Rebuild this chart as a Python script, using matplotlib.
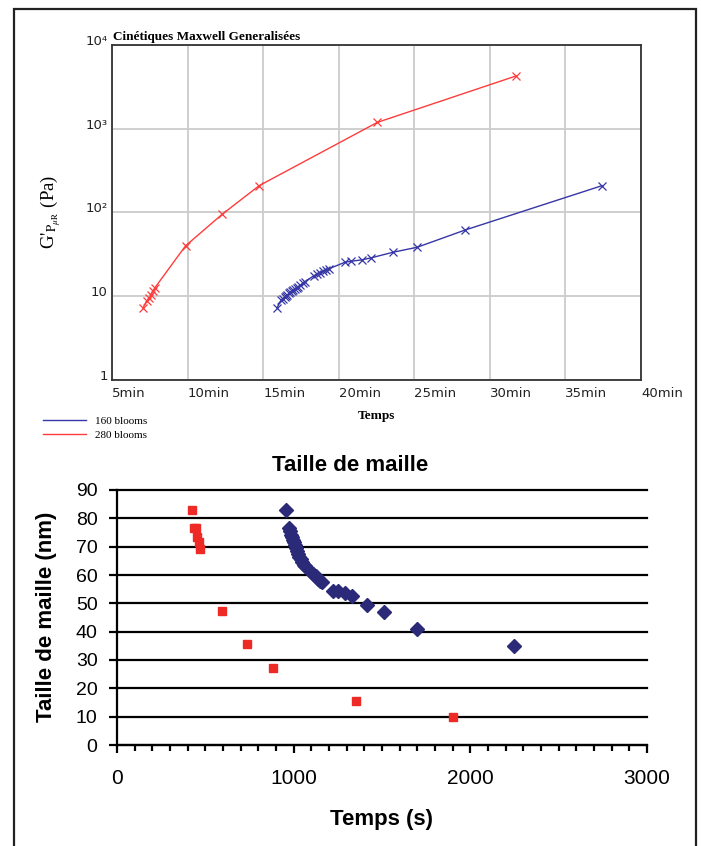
import matplotlib
matplotlib.use("Agg")
import matplotlib.pyplot as plt
from matplotlib.lines import Line2D
from matplotlib.patches import Rectangle
from matplotlib.ticker import FixedLocator, NullLocator, MultipleLocator

plt.rcParams["mathtext.fontset"] = "stix"

# 280 blooms gel (red)
red_time_s = [424, 438, 448, 455, 462, 470, 592, 737, 884, 1353, 1904]
red_modulus_pa = [7.3, 8.8, 9.5, 10.4, 11.5, 12.6, 40, 95, 209, 1190, 4270]
red_mesh_nm = [83, 76.5, 76.5, 73.5, 71.5, 69, 47.2, 35.5, 27.3, 15.5, 10]

# 160 blooms gel (blue)
blue_time_s = [955, 972, 978, 985, 990, 996, 1002, 1008, 1014, 1020, 1026, 1033,
               1040, 1048, 1057, 1066, 1100, 1112, 1124, 1136, 1148, 1160, 1225,
               1250, 1292, 1330, 1415, 1512, 1700, 2245]
blue_modulus_pa = [7.3, 9.0, 9.4, 9.8, 10.0, 10.4, 10.8, 11.1, 11.5, 11.8, 12.2,
                   12.6, 13.0, 13.6, 14.2, 14.9, 17.5, 18.3, 19.2, 19.8, 20.5, 21.2,
                   25.5, 26.2, 27.2, 28.8, 33.5, 38.5, 61.5, 209]
blue_mesh_nm = [83, 76.5, 75.5, 74, 73.5, 72.5, 71.5, 70.5, 69.5, 68.5, 67.5, 66.5,
                65.5, 64.5, 63.5, 63, 61, 60.5, 59.5, 58.5, 58, 57.5, 54.5, 54.5,
                53.5, 52.5, 49.5, 47, 41, 35]

series_labels = ["160 blooms", "280 blooms"]

minute_ticks = [5, 10, 15, 20, 25, 30, 35, 40]
minute_labels = [f"{m}min" for m in minute_ticks]
modulus_ticks = [1, 10, 100, 1000, 10000]
modulus_labels = ["1", "10", "10\u00b2", "10\u00b3", "10\u2074"]
mesh_ticks = list(range(0, 91, 10))
time_ticks = [0, 1000, 2000, 3000]

W, H = 701, 846
RED_LINE = "#ff3c3c"
BLUE_LINE = "#3636a6"
RED_MARK = "#ee2a26"
BLUE_MARK = "#2a2a78"
SERIF = "Liberation Serif"
SANS = "Liberation Sans"


def fx(px):
    return px / W


def fy(py):
    return 1 - py / H


fig = plt.figure(figsize=(W / 100, H / 100), dpi=100)

# outer frame
fig.add_artist(Rectangle((fx(14), -0.01), fx(696) - fx(14), fy(8.5) + 0.01,
                         transform=fig.transFigure, fill=False,
                         edgecolor="#222222", linewidth=1.6))

# ---------- top panel: modulus kinetics ----------
ax1 = fig.add_axes([fx(112), fy(380), fx(641) - fx(112), fy(45) - fy(380)])
blue_min = [t / 60 for t in blue_time_s]
red_min = [t / 60 for t in red_time_s]
ax1.plot(blue_min, blue_modulus_pa, color=BLUE_LINE, lw=1.0, marker="x",
         ms=6, mew=0.9)
ax1.plot(red_min, red_modulus_pa, color=RED_LINE, lw=1.0, marker="x",
         ms=6, mew=0.9)
ax1.set_yscale("log")
ax1.set_xlim(5, 40)
ax1.set_ylim(1, 10000)
ax1.xaxis.set_major_locator(FixedLocator(minute_ticks))
ax1.set_xticklabels(minute_labels)
ax1.yaxis.set_major_locator(FixedLocator(modulus_ticks))
ax1.yaxis.set_minor_locator(NullLocator())
ax1.set_yticklabels(modulus_labels)
ax1.grid(True, color="#cccccc", lw=1.3)
ax1.set_axisbelow(True)
ax1.tick_params(length=0, labelsize=9.5, colors="#222222")
ax1.tick_params(axis="x", pad=5)
ax1.tick_params(axis="y", pad=3)
for lab in ax1.get_xticklabels():
    lab.set_horizontalalignment("left")
    lab.set_family("DejaVu Sans")
for lab in ax1.get_yticklabels():
    lab.set_verticalalignment("baseline")
    lab.set_family("DejaVu Sans")
for sp in ax1.spines.values():
    sp.set_color("#333333")
    sp.set_linewidth(1.3)

ax1.text(0.002, 1.006, "Cinétiques Maxwell Generalisées", transform=ax1.transAxes,
         ha="left", va="bottom", family=SERIF, weight="bold", size=9.5)
fig.text(fx(51), fy(212), r"G$'_{\mathrm{P}_{\mu\mathrm{R}}}$ (Pa)", rotation=90,
         ha="center", va="center", family=SERIF, size=13.5)
fig.text(fx(376), fy(416), "Temps", ha="center", va="center", family=SERIF,
         weight="bold", size=9.5)

handles = [Line2D([], [], color=BLUE_LINE, lw=1.0),
           Line2D([], [], color=RED_LINE, lw=1.0)]
ax1.legend(handles, series_labels, loc="upper left",
           bbox_to_anchor=(fx(43), fy(416)), bbox_transform=fig.transFigure,
           frameon=False, prop={"family": SERIF, "size": 8},
           handlelength=3.9, handletextpad=0.8, borderpad=0, borderaxespad=0,
           labelspacing=0.42)

# ---------- bottom panel: mesh size ----------
ax2 = fig.add_axes([fx(117), fy(745), fx(647) - fx(117), fy(490) - fy(745)])
ax2.plot(red_time_s, red_mesh_nm, ls="none", marker="s", ms=6.3, color=RED_MARK,
         mec=RED_MARK, zorder=3)
ax2.plot(blue_time_s, blue_mesh_nm, ls="none", marker="D", ms=7, color=BLUE_MARK,
         mec=BLUE_MARK, zorder=3)
ax2.set_xlim(0, 3000)
ax2.set_ylim(0, 90)
ax2.xaxis.set_major_locator(FixedLocator(time_ticks))
ax2.xaxis.set_minor_locator(MultipleLocator(100))
ax2.yaxis.set_major_locator(FixedLocator(mesh_ticks))
ax2.yaxis.grid(True, color="black", lw=1.6, clip_on=False)
ax2.set_axisbelow(True)
for side in ("top", "right"):
    ax2.spines[side].set_visible(False)
for side in ("left", "bottom"):
    ax2.spines[side].set_linewidth(1.6)
    ax2.spines[side].set_color("black")
ax2.tick_params(axis="y", direction="out", length=6, width=1.6, labelsize=14,
                pad=8)
ax2.tick_params(axis="x", which="major", direction="out", length=6, width=1.6,
                labelsize=15, pad=11)
ax2.tick_params(axis="x", which="minor", direction="out", length=4, width=1.6)
for lab in ax2.get_xticklabels() + ax2.get_yticklabels():
    lab.set_family(SANS)

fig.text(fx(350), fy(465), "Taille de maille", ha="center", va="center",
         family=SANS, weight="bold", size=16)
fig.text(fx(47), fy(617), "Taille de maille (nm)", rotation=90, ha="center",
         va="center", family=SANS, weight="bold", size=16)
fig.text(fx(382), fy(819), "Temps (s)", ha="center", va="center", family=SANS,
         weight="bold", size=16)

fig.savefig("out.png", dpi=100)
